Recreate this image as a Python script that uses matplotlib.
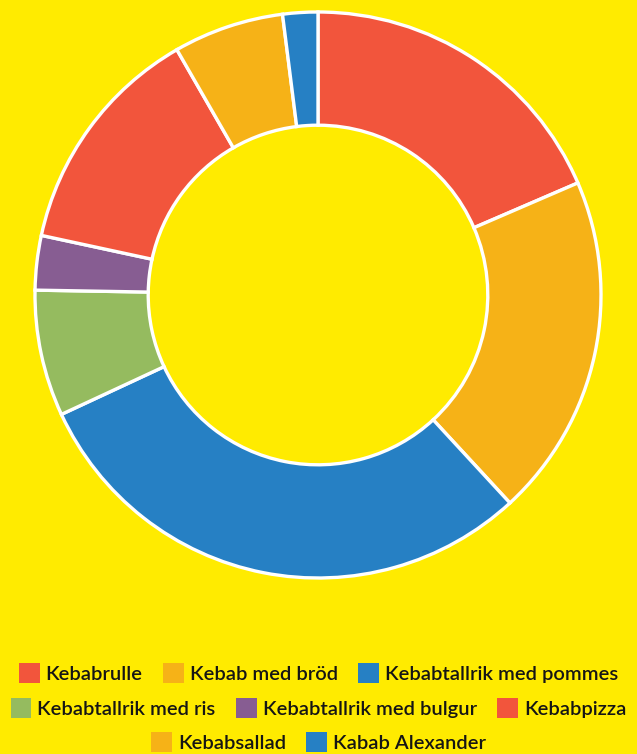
import matplotlib.pyplot as plt
from matplotlib.patches import Patch

# kebab types, share of answers (%)
labels = ["Kebabrulle", "Kebab med bröd", "Kebabtallrik med pommes",
          "Kebabtallrik med ris", "Kebabtallrik med bulgur", "Kebabpizza",
          "Kebabsallad", "Kabab Alexander"]
values = [18.5, 19.6, 29.9, 7.2, 3.1, 13.3, 6.3, 2.0]
colors = ["#F2553C", "#F6B217", "#2680C4", "#95BB5F", "#875D92", "#F2553C",
          "#F6B217", "#2680C4"]

# legend rows (indexes into labels)
rows = [[0, 1, 2], [3, 4, 5], [6, 7]]
row_y = [0.1074, 0.0610, 0.0159]

bg = "#FFEB00"
plt.rcParams['font.family'] = ['Lato', 'DejaVu Sans']

fig = plt.figure(figsize=(6.37, 7.54), dpi=100)
fig.patch.set_facecolor(bg)

ax = fig.add_axes([35 / 637, 176 / 754, 566 / 637, 566 / 754])
ax.set_facecolor(bg)
ax.pie(values, colors=colors, startangle=90, counterclock=False, radius=1,
       wedgeprops=dict(width=0.4, edgecolor="white", linewidth=2.4))
ax.set_xlim(-1, 1)
ax.set_ylim(-1, 1)
ax.set_aspect("equal")
ax.axis("off")

for r, y in zip(rows, row_y):
    handles = [Patch(facecolor=colors[i], edgecolor="none") for i in r]
    fig.legend(handles, [labels[i] for i in r], loc="center",
               bbox_to_anchor=(0.5, y), ncol=len(r), frameon=False,
               prop=dict(size=14.5, weight="semibold"),
               handlelength=1.04, handleheight=1.22,
               handletextpad=0.3, columnspacing=1.0, borderpad=0,
               labelcolor="#151515")

fig.savefig("out.png", dpi=100, facecolor=bg)
